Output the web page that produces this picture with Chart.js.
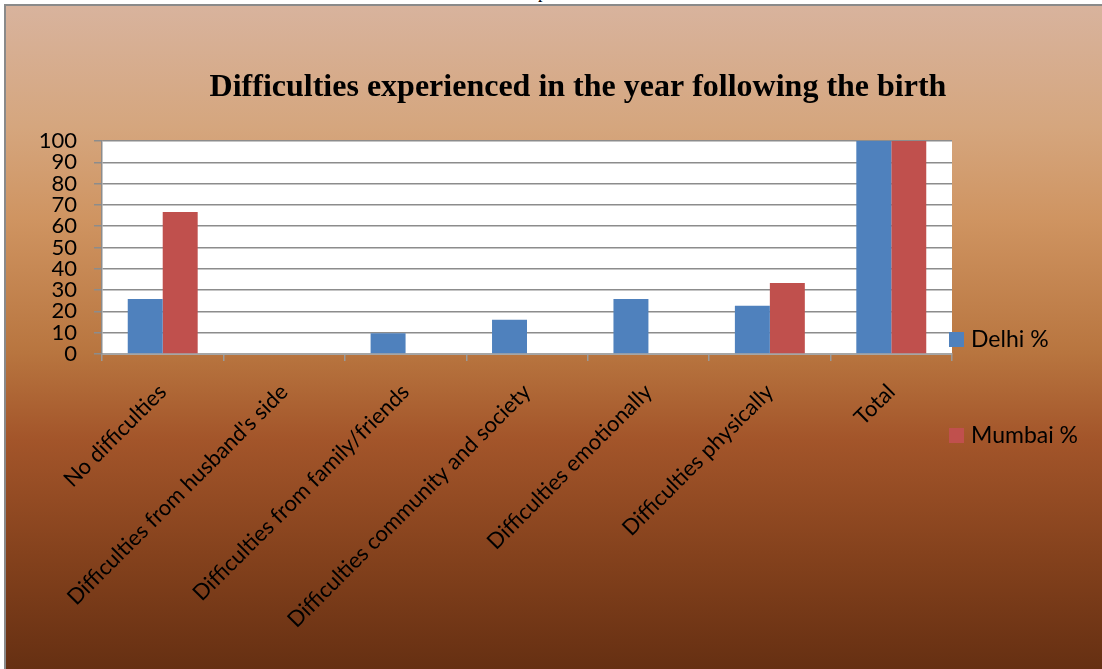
<!DOCTYPE html>
<html>
<head>
<meta charset="utf-8">
<script src="https://cdn.jsdelivr.net/npm/chart.js@4/dist/chart.umd.min.js"></script>
<style>
  html, body { margin: 0; padding: 0; background: #ffffff; overflow: hidden; }
  #page { position: relative; width: 1102px; height: 669px; }
  #frame {
    position: absolute; left: 4px; top: 4px; width: 1100px; height: 667px;
    border-left: 2px solid #8a8a8a; border-top: 2px solid #8a8a8a;
    background: linear-gradient(to bottom, #d8b39d 0%, #d5a67e 18%, #cf9461 32%, #b8753f 52%, #a3552a 65%, #85421d 82%, #652f12 100%);
  }
  #clip { position: absolute; left: 538px; top: 0; width: 8px; height: 4px; overflow: hidden; }
  #clip span { position: absolute; left: 0; top: -17px; font: 18px "Liberation Serif", serif; line-height: 18px; color: #000; }
  canvas { position: absolute; left: 0; top: 0; }
</style>
</head>
<body>
<div id="page">
  <div id="clip"><span>p</span></div>
  <div id="frame"></div>
  <canvas id="c" width="1102" height="669"></canvas>
</div>
<script>
const titleText = "Difficulties experienced in the year following the birth";
const categories = [
  "No difficulties",
  "Difficulties from husband's side",
  "Difficulties from family/friends",
  "Difficulties community and society",
  "Difficulties emotionally",
  "Difficulties physically",
  "Total"
];
const seriesNames = ["Delhi %", "Mumbai %"];
const delhiValues = [25.8, 0, 9.7, 16.1, 25.8, 22.6, 100];
const mumbaiValues = [66.7, 0, 0, 0, 0, 33.3, 100];
const seriesColors = ["#4f81bd", "#c0504d"];
const yMin = 0, yMax = 100, yStep = 10;

const plotBg = {
  id: 'plotBg',
  beforeDraw(chart) {
    const {ctx, chartArea: a} = chart;
    ctx.save();
    ctx.fillStyle = '#ffffff';
    ctx.fillRect(a.left, a.top, a.right - a.left, a.bottom - a.top);
    ctx.restore();
  }
};

const titleAndLegend = {
  id: 'titleAndLegend',
  afterDraw(chart) {
    const ctx = chart.ctx;
    ctx.save();
    ctx.fillStyle = '#000';
    ctx.font = 'bold 32px "Liberation Serif", "Times New Roman", serif';
    ctx.textAlign = 'center';
    ctx.textBaseline = 'alphabetic';
    ctx.fillText(titleText, 578, 96);
    const items = chart.data.datasets;
    const ys = [339, 435];
    ctx.font = '23px Lato, "Liberation Sans", sans-serif';
    ctx.textAlign = 'left';
    ctx.textBaseline = 'middle';
    items.forEach((ds, i) => {
      ctx.fillStyle = ds.backgroundColor;
      ctx.fillRect(949, ys[i] - 7, 15, 15);
      ctx.fillStyle = '#000';
      ctx.fillText(ds.label, 971, ys[i] + 1);
    });
    ctx.restore();
  }
};

new Chart(document.getElementById('c'), {
  type: 'bar',
  data: {
    labels: categories,
    datasets: [
      { label: seriesNames[0], data: delhiValues, backgroundColor: seriesColors[0] },
      { label: seriesNames[1], data: mumbaiValues, backgroundColor: seriesColors[1] }
    ]
  },
  options: {
    responsive: false,
    animation: false,
    devicePixelRatio: 1,
    layout: { padding: { left: 0, right: 150, top: 141, bottom: 0 } },
    datasets: { bar: { categoryPercentage: 0.576, barPercentage: 1.0, borderWidth: 0 } },
    plugins: {
      legend: { display: false },
      title: { display: false },
      tooltip: { enabled: false }
    },
    scales: {
      x: {
        offset: true,
        afterFit(scale) { scale.height = 669 - 354; },
        grid: {
          offset: true,
          drawOnChartArea: false,
          drawTicks: true,
          tickLength: 7,
          color: '#9a9a9a',
          lineWidth: 1.5
        },
        border: { display: true, color: '#a6a6a6', width: 2 },
        ticks: {
          autoSkip: false,
          maxRotation: 45,
          minRotation: 45,
          padding: 18,
          color: '#000',
          font: { family: 'Lato, "Liberation Sans", sans-serif', size: 22 }
        }
      },
      y: {
        min: yMin,
        max: yMax,
        afterFit(scale) { scale.width = 102; },
        grid: {
          color: '#8c8c8c',
          lineWidth: 1.5,
          tickLength: 8,
          drawTicks: true
        },
        border: { display: true, color: '#8c8c8c', width: 1.5 },
        ticks: {
          stepSize: yStep,
          autoSkip: false,
          padding: 17,
          color: '#000',
          font: { family: 'Lato, "Liberation Sans", sans-serif', size: 22 }
        }
      }
    }
  },
  plugins: [plotBg, titleAndLegend]
});
</script>
</body>
</html>
